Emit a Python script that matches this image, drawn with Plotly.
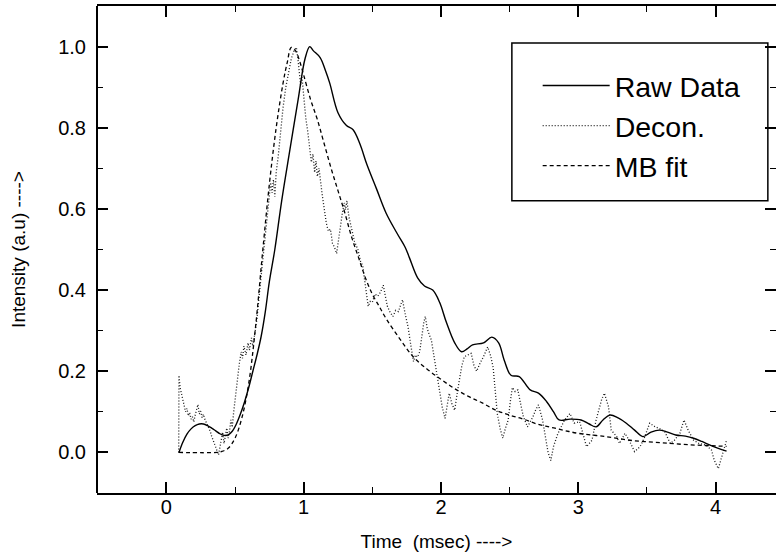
import plotly.graph_objects as go

# ---------------- data ----------------
raw_x = [0.092, 0.12, 0.15, 0.18, 0.21, 0.24, 0.27, 0.30, 0.33, 0.36, 0.39, 0.42, 0.45, 0.48,
         0.51, 0.54, 0.57, 0.60, 0.63, 0.66, 0.69, 0.72, 0.75, 0.79, 0.84, 0.90, 0.96, 1.01,
         1.044, 1.07, 1.12, 1.16, 1.19, 1.25, 1.31, 1.36, 1.41, 1.46, 1.53, 1.60, 1.68, 1.74,
         1.77, 1.83, 1.88, 1.94, 1.99, 2.04, 2.10, 2.15, 2.19, 2.23, 2.31, 2.37, 2.42, 2.46,
         2.51, 2.57, 2.65, 2.71, 2.77, 2.82, 2.86, 2.94, 3.02, 3.08, 3.13, 3.18, 3.23, 3.29,
         3.35, 3.41, 3.47, 3.53, 3.59, 3.65, 3.71, 3.78, 3.84, 3.90, 3.96, 4.02, 4.08]
raw_y = [0.0, 0.025, 0.045, 0.058, 0.066, 0.070, 0.070, 0.066, 0.060, 0.053, 0.046, 0.042, 0.043, 0.052,
         0.070, 0.095, 0.125, 0.160, 0.200, 0.240, 0.285, 0.345, 0.420, 0.500, 0.620, 0.746, 0.870, 0.970,
         1.000, 0.990, 0.973, 0.940, 0.910, 0.837, 0.806, 0.795, 0.760, 0.710, 0.650, 0.590, 0.540, 0.505,
         0.480, 0.430, 0.410, 0.400, 0.370, 0.320, 0.270, 0.248, 0.255, 0.265, 0.270, 0.284, 0.270, 0.228,
         0.190, 0.187, 0.154, 0.146, 0.125, 0.100, 0.080, 0.082, 0.080, 0.070, 0.063, 0.080, 0.092, 0.085,
         0.072, 0.055, 0.039, 0.050, 0.055, 0.050, 0.043, 0.040, 0.035, 0.027, 0.018, 0.010, 0.003]

decon_x = [0.090, 0.092, 0.100, 0.110, 0.120, 0.130, 0.140, 0.150, 0.160, 0.170, 0.180, 0.190, 0.200,
           0.210, 0.220, 0.230, 0.240, 0.250, 0.260, 0.270, 0.280, 0.290, 0.300, 0.310, 0.320, 0.330,
           0.340, 0.350, 0.360, 0.370, 0.380, 0.390, 0.400, 0.410, 0.420, 0.430, 0.440, 0.450, 0.460,
           0.470, 0.480, 0.490, 0.500, 0.515, 0.530, 0.545, 0.555, 0.565, 0.580, 0.595, 0.605, 0.620,
           0.630, 0.645, 0.660, 0.680, 0.700, 0.720, 0.735, 0.750, 0.760, 0.770, 0.780, 0.790, 0.800,
           0.815, 0.830, 0.850, 0.870, 0.890, 0.910, 0.930, 0.947, 0.958, 0.968, 0.978, 0.988, 1.000,
           1.015, 1.030, 1.045, 1.056, 1.068, 1.080, 1.090, 1.100, 1.112, 1.125, 1.135, 1.150, 1.165,
           1.180, 1.195, 1.210, 1.225, 1.240, 1.255, 1.270, 1.282, 1.295, 1.305, 1.315, 1.330, 1.350,
           1.370, 1.395, 1.415, 1.430, 1.445, 1.460, 1.470, 1.485, 1.500, 1.520, 1.540, 1.560, 1.580,
           1.595, 1.610, 1.630, 1.650, 1.670, 1.690, 1.705, 1.720, 1.740, 1.760, 1.780, 1.800, 1.815,
           1.830, 1.845, 1.860, 1.875, 1.886, 1.900, 1.915, 1.930, 1.950, 1.970, 1.990, 2.010, 2.030,
           2.045, 2.060, 2.080, 2.100, 2.120, 2.135, 2.150, 2.170, 2.195, 2.220, 2.240, 2.260, 2.285,
           2.310, 2.340, 2.360, 2.380, 2.395, 2.410, 2.430, 2.450, 2.470, 2.490, 2.505, 2.520, 2.540,
           2.560, 2.580, 2.600, 2.630, 2.650, 2.670, 2.690, 2.710, 2.740, 2.760, 2.780, 2.800, 2.820,
           2.850, 2.865, 2.900, 2.940, 2.970, 3.010, 3.035, 3.060, 3.080, 3.100, 3.130, 3.170, 3.190,
           3.220, 3.240, 3.280, 3.300, 3.340, 3.370, 3.410, 3.450, 3.480, 3.520, 3.560, 3.590, 3.630,
           3.670, 3.700, 3.740, 3.770, 3.800, 3.840, 3.880, 3.930, 3.970, 3.990, 4.020, 4.050, 4.080]
decon_y = [0.000, 0.190, 0.160, 0.145, 0.125, 0.118, 0.100, 0.108, 0.090, 0.098, 0.082, 0.088, 0.075,
           0.092, 0.110, 0.118, 0.095, 0.102, 0.086, 0.094, 0.082, 0.075, 0.068, 0.060, 0.052, 0.040,
           0.030, 0.020, 0.010, 0.002, -0.006, 0.012, 0.032, 0.050, 0.022, 0.042, 0.060, 0.035, 0.052,
           0.080, 0.062, 0.098, 0.130, 0.175, 0.215, 0.248, 0.232, 0.262, 0.240, 0.270, 0.252, 0.282,
           0.262, 0.295, 0.330, 0.400, 0.470, 0.530, 0.585, 0.630, 0.665, 0.640, 0.672, 0.630, 0.690,
           0.730, 0.790, 0.850, 0.900, 0.940, 0.970, 0.990, 0.998, 0.970, 0.930, 0.905, 0.925, 0.880,
           0.825, 0.790, 0.745, 0.715, 0.735, 0.690, 0.718, 0.680, 0.700, 0.655, 0.635, 0.600, 0.565,
           0.545, 0.550, 0.515, 0.505, 0.490, 0.530, 0.560, 0.590, 0.615, 0.598, 0.620, 0.580, 0.550,
           0.520, 0.500, 0.470, 0.460, 0.420, 0.380, 0.360, 0.372, 0.370, 0.390, 0.385, 0.395, 0.412,
           0.385, 0.360, 0.345, 0.335, 0.350, 0.347, 0.362, 0.376, 0.340, 0.310, 0.265, 0.224, 0.240,
           0.235, 0.248, 0.285, 0.320, 0.335, 0.305, 0.290, 0.277, 0.235, 0.195, 0.146, 0.110, 0.084,
           0.120, 0.146, 0.120, 0.104, 0.150, 0.185, 0.210, 0.236, 0.240, 0.244, 0.215, 0.200, 0.220,
           0.236, 0.260, 0.240, 0.210, 0.150, 0.096, 0.060, 0.035, 0.060, 0.080, 0.125, 0.160, 0.150,
           0.154, 0.120, 0.088, 0.063, 0.075, 0.088, 0.105, 0.117, 0.080, 0.040, 0.000, -0.020, 0.015,
           0.045, 0.055, 0.080, 0.096, 0.072, 0.076, 0.045, 0.014, 0.022, 0.030, 0.080, 0.130, 0.146,
           0.113, 0.055, 0.039, 0.022, 0.047, 0.030, 0.002, 0.014, 0.035, 0.072, 0.063, 0.059, 0.051,
           0.022, 0.030, 0.047, 0.080, 0.055, 0.030, 0.022, 0.018, 0.006, -0.019, -0.040, -0.007, 0.030]

mb_x = [0.09, 0.37, 0.40, 0.45, 0.50, 0.55, 0.60, 0.65, 0.70, 0.75, 0.80, 0.85, 0.88, 0.91, 0.94,
        0.97, 1.00, 1.05, 1.10, 1.15, 1.20, 1.25, 1.30, 1.35, 1.40, 1.45, 1.50, 1.55, 1.60, 1.70,
        1.80, 1.90, 2.00, 2.10, 2.20, 2.30, 2.40, 2.50, 2.60, 2.70, 2.80, 2.90, 3.00, 3.20, 3.40,
        3.60, 3.80, 4.00, 4.08]
mb_y = [0.0, 0.0, 0.002, 0.010, 0.035, 0.085, 0.170, 0.310, 0.490, 0.660, 0.800, 0.910, 0.960, 0.998, 0.990,
        0.965, 0.930, 0.870, 0.820, 0.760, 0.700, 0.645, 0.590, 0.530, 0.480, 0.430, 0.390, 0.360, 0.330, 0.280,
        0.235, 0.205, 0.180, 0.157, 0.138, 0.122, 0.104, 0.092, 0.082, 0.070, 0.062, 0.054, 0.047, 0.039, 0.029,
        0.024, 0.019, 0.016, 0.015]

series_names = ["Raw Data", "Decon.", "MB fit"]
x_ticks = [0, 1, 2, 3, 4]
y_ticks = [0.0, 0.2, 0.4, 0.6, 0.8, 1.0]
x_range = [-0.505, 4.44]

# ---------------- figure ----------------
FONT = "Liberation Sans, Arial, sans-serif"
fig = go.Figure()
# Raw data is drawn through the label axis x2 (same range as x), so that axis is rendered
fig.add_trace(go.Scatter(x=raw_x, y=raw_y, mode="lines", name=series_names[0], legendgroup="a",
                         xaxis="x2", yaxis="y",
                         line=dict(color="black", width=1.4), line_shape="spline"))
fig.add_trace(go.Scatter(x=decon_x, y=decon_y, mode="lines", name=series_names[1], legendgroup="b",
                         line=dict(color="#1a1a1a", width=1.3, dash="1px,2px")))
fig.add_trace(go.Scatter(x=mb_x, y=mb_y, mode="lines", name=series_names[2], legendgroup="c",
                         line=dict(color="black", width=1.3, dash="4px,3px"), line_shape="spline"))

tickfont = dict(family=FONT, size=20, color="black")

fig.update_layout(
    xaxis=dict(range=x_range, tickvals=x_ticks, showticklabels=False,
               ticks="inside", ticklen=11, tickwidth=1.6, tickcolor="black",
               showline=True, linecolor="black", linewidth=2, mirror="ticks",
               showgrid=False, zeroline=False,
               minor=dict(ticks="inside", ticklen=6, tickwidth=1.4, tickcolor="black", dtick=0.5, tick0=0)),
    # label-only axis carrying tick labels and title
    xaxis2=dict(range=x_range, overlaying="x", anchor="free", position=0.0005, side="bottom",
                tickvals=x_ticks, ticktext=[str(v) for v in x_ticks], tickfont=tickfont,
                ticks="", showline=False, showgrid=False, zeroline=False,
                title=dict(text="Time\u00a0 (msec) ---->", font=dict(family=FONT, size=19, color="black"),
                           standoff=17)),
    yaxis=dict(range=[-0.1, 1.1], tickvals=y_ticks, ticktext=[f"{v:.1f}" for v in y_ticks],
               tickfont=tickfont, showline=False, mirror="ticks",
               ticks="inside", ticklen=11, tickwidth=1.6, tickcolor="black",
               showgrid=False, zeroline=False, ticklabelstandoff=10,
               minor=dict(ticks="inside", ticklen=6, tickwidth=1.4, tickcolor="black", dtick=0.1, tick0=0),
               title=dict(text="Intensity (a.u) ---->", font=dict(family=FONT, size=19, color="black"),
                          standoff=27)),
    width=776, height=558,
    margin=dict(l=97, r=0, t=6, b=65),
    paper_bgcolor="white", plot_bgcolor="white",
    showlegend=True,
    legend=dict(x=0.649, y=0.888, xanchor="left", yanchor="top",
                font=dict(family=FONT, size=28.5, color="black"),
                bgcolor="rgba(0,0,0,0)", borderwidth=0, itemwidth=67,
                tracegroupgap=0),
    shapes=[
        dict(type="line", xref="paper", yref="paper", x0=0, x1=0, y0=0, y1=1,
             line=dict(color="black", width=2)),
        dict(type="rect", xref="paper", yref="paper", x0=0.611, x1=0.988, y0=0.600, y1=0.924,
             line=dict(color="black", width=1.5)),
    ],
)

fig.write_html("out.html")
